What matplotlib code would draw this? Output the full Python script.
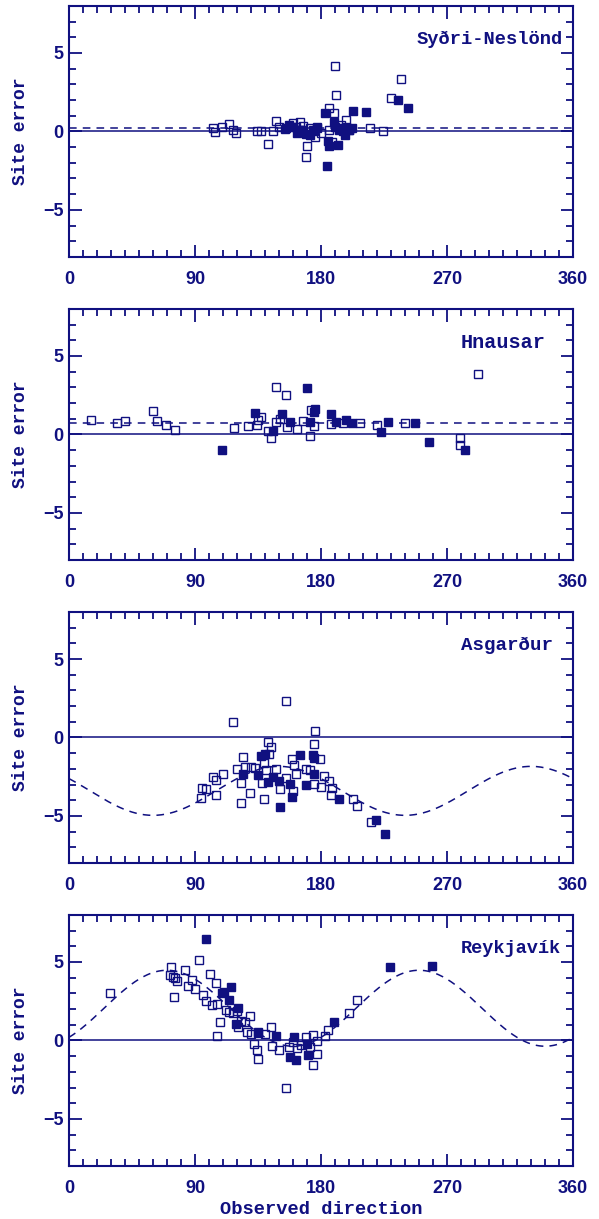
import matplotlib
matplotlib.use("Agg")
import matplotlib.pyplot as plt
import matplotlib.ticker as ticker
import numpy as np

# panel names (as printed on the chart)
names = ["Syðri-Neslönd", "Hnausar", "Asgarður", "Reykjavík"]

# Syðri-Neslönd
open1_x = [103, 104, 109, 114, 117, 119, 134, 137, 142, 146, 148, 150, 154, 160, 162, 165, 167, 169,
           170, 172, 174, 176, 177, 180, 186, 186, 188, 189, 190, 191, 194, 198, 200, 215, 224, 230, 237]
open1_y = [0.2, -0.05, 0.3, 0.5, 0.1, -0.1, 0.0, 0.0, -0.8, 0.05, 0.65, 0.25, 0.15, 0.55, 0.3, 0.6, 0.35, -1.65,
           -0.95, 0.2, 0.1, -0.35, 0.25, -0.1, 0.1, 1.5, -0.65, 1.2, 4.15, 2.3, 0.4, 0.75, 0.1, 0.2, 0.0, 2.1, 3.35]
fill1_x = [155, 157, 160, 163, 164, 166, 169, 172, 175, 177, 183, 184, 185, 186, 189, 190, 192, 193,
           195, 196, 197, 198, 200, 202, 203, 212, 235, 242]
fill1_y = [0.2, 0.4, 0.25, -0.1, 0.1, 0.1, -0.15, -0.2, 0.05, 0.2, 1.15, -2.2, -0.6, -0.95, 0.6, 0.3, -0.85, 0.1,
           0.2, 0.0, -0.2, 0.3, 0.1, 0.2, 1.3, 1.25, 2.0, 1.5]

# Hnausar
open2_x = [16, 34, 40, 60, 63, 69, 76, 118, 128, 134, 135, 137, 142, 144, 148, 148, 151, 155, 156, 163,
           167, 172, 173, 175, 187, 196, 208, 220, 240, 279, 279, 292]
open2_y = [0.95, 0.7, 0.85, 1.5, 0.85, 0.6, 0.3, 0.4, 0.55, 0.6, 0.95, 1.1, 0.2, -0.2, 3.05, 0.8, 1.0, 2.5, 0.45, 0.35,
           0.85, -0.1, 1.55, 0.55, 0.65, 0.75, 0.7, 0.6, 0.7, -0.25, -0.65, 3.85]
fill2_x = [109, 133, 146, 152, 158, 170, 172, 175, 176, 187, 191, 198, 202, 223, 228, 247, 257, 283]
fill2_y = [-1.0, 1.38, 0.22, 1.32, 0.8, 2.95, 0.8, 1.45, 1.6, 1.28, 0.82, 0.95, 0.75, 0.18, 0.8, 0.75, -0.5, -1.02]

# Asgarður
open3_x = [94, 95, 98, 103, 105, 105, 110, 117, 120, 123, 123, 124, 126, 129, 130, 133, 138, 139, 139, 141,
           142, 143, 144, 148, 151, 155, 155, 159, 160, 161, 162, 169, 172, 175, 175, 176, 179, 180, 182, 186,
           187, 188, 203, 206, 216]
open3_y = [-3.85, -3.2, -3.25, -2.5, -2.7, -3.65, -2.3, 1.0, -2.0, -2.9, -4.15, -1.25, -1.85, -3.55, -1.85, -1.95,
           -2.9, -1.6, -3.95, -2.1, -0.3, -1.05, -0.6, -2.0, -3.25, 2.35, -2.55, -1.35, -3.4, -1.75, -2.35, -2.0,
           -2.05, -0.4, -2.95, 0.4, -1.4, -3.15, -2.45, -2.75, -3.65, -3.2, -3.9, -4.35, -5.4]
fill3_x = [124, 135, 137, 140, 142, 146, 150, 151, 158, 159, 165, 169, 174, 175, 175, 193, 219, 226]
fill3_y = [-2.3, -2.4, -1.15, -1.05, -2.85, -2.5, -2.8, -4.45, -2.95, -3.8, -1.1, -3.05, -1.1, -1.3, -2.35,
           -3.9, -5.25, -6.15]

# Reykjavík
open4_x = [29, 72, 73, 74, 75, 76, 77, 83, 85, 88, 90, 93, 96, 98, 101, 102, 105, 106, 106, 108, 112, 114,
           117, 120, 121, 123, 126, 127, 129, 130, 132, 134, 135, 135, 140, 144, 145, 150, 155, 157, 160, 163,
           166, 169, 172, 174, 174, 177, 177, 183, 185, 200, 206]
open4_y = [3.05, 4.15, 4.65, 4.05, 2.75, 3.95, 3.8, 4.5, 3.45, 3.85, 3.3, 5.15, 2.9, 2.5, 4.25, 2.25, 3.65, 2.3,
           0.25, 1.15, 1.95, 1.8, 1.75, 1.85, 0.85, 1.25, 1.2, 0.55, 1.55, 0.4, -0.2, -0.6, -1.2, 0.55, 0.4, 0.85,
           -0.35, -0.6, -3.05, -0.4, -0.1, -0.5, -0.3, 0.2, -0.4, 0.35, -1.55, -0.85, -0.05, 0.3, 0.65, 1.75, 2.55]
fill4_x = [98, 109, 111, 114, 116, 119, 121, 135, 148, 158, 161, 162, 170, 171, 189, 229, 259]
fill4_y = [6.45, 3.0, 3.1, 2.55, 3.4, 1.05, 2.05, 0.45, 0.3, -1.05, 0.2, -1.25, -0.2, -0.95, 1.15, 4.7, 4.75]

# dashed model: offset + amp*cos(2*(x - phase))
fit_offset = [0.23, 0.7, -3.4, 2.05]
fit_amp = [0.0, 0.0, 1.56, 2.42]
fit_phase = [0.0, 0.0, 150.0, 70.0]

open_x = [open1_x, open2_x, open3_x, open4_x]
open_y = [open1_y, open2_y, open3_y, open4_y]
fill_x = [fill1_x, fill2_x, fill3_x, fill4_x]
fill_y = [fill1_y, fill2_y, fill3_y, fill4_y]

navy = "#101080"
lab_font = "Liberation Mono"
tick_font = "Liberation Sans"

fig = plt.figure(figsize=(5.99, 12.19), dpi=100)
bottoms = [0.7892, 0.5406, 0.2920, 0.0435]
name_x = [0.69, 0.778, 0.778, 0.778]
name_size = [13.5, 14.5, 13.8, 13.4]

xx = np.linspace(0, 360, 361)
for i in range(4):
    ax = fig.add_axes([0.1152, bottoms[i], 0.8414, 0.206])
    ax.axhline(0, color=navy, lw=1.1, zorder=2)
    yy = fit_offset[i] + fit_amp[i] * np.cos(np.radians(2 * (xx - fit_phase[i])))
    ax.plot(xx, yy, color=navy, lw=1.1, ls=(0, (5, 4)), zorder=2)
    ax.plot(open_x[i], open_y[i], "s", ms=5.5, mfc="none", mec=navy, mew=1.0, zorder=3)
    ax.plot(fill_x[i], fill_y[i], "s", ms=5.5, mfc=navy, mec=navy, mew=1.0, zorder=4)

    ax.set_xlim(0, 360)
    ax.set_ylim(-8, 8)
    ax.xaxis.set_major_locator(ticker.MultipleLocator(90))
    ax.xaxis.set_minor_locator(ticker.MultipleLocator(10))
    ax.yaxis.set_major_locator(ticker.MultipleLocator(5))
    ax.yaxis.set_minor_locator(ticker.MultipleLocator(1))
    ax.tick_params(which="both", direction="in", top=True, right=True, colors=navy, width=1.3)
    ax.tick_params(which="major", length=9)
    ax.tick_params(which="minor", length=5)
    ax.tick_params(axis="x", pad=10)
    ax.tick_params(axis="y", pad=4)
    for lab in ax.get_xticklabels() + ax.get_yticklabels():
        lab.set_fontfamily(tick_font)
        lab.set_fontweight("bold")
        lab.set_fontsize(13)
        lab.set_color(navy)
    for sp in ax.spines.values():
        sp.set_color(navy)
        sp.set_linewidth(1.5)

    ax.text(name_x[i], 0.865, names[i], transform=ax.transAxes, ha="left", va="center",
            fontfamily=lab_font, fontweight="bold", fontsize=name_size[i], color=navy)
    ax.set_ylabel("Site error", fontfamily=lab_font, fontweight="bold", fontsize=13, color=navy)
    ax.yaxis.set_label_coords(-0.08, 0.5)
    if i == 3:
        ax.set_xlabel("Observed direction", fontfamily=lab_font, fontweight="bold", fontsize=13.5,
                      color=navy, labelpad=3)

fig.savefig("out.png", dpi=100)
